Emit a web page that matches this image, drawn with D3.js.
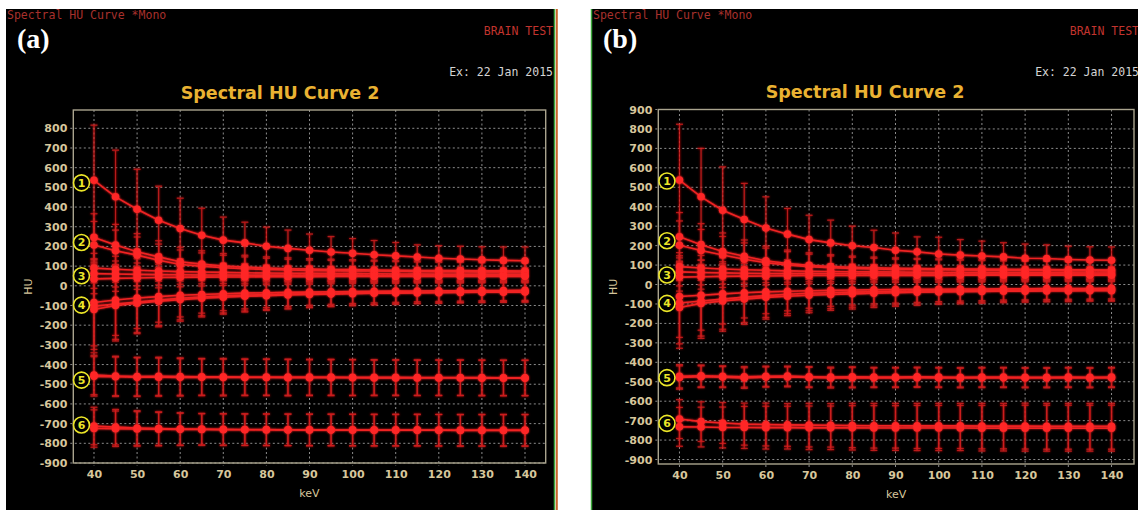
<!DOCTYPE html>
<html>
<head>
<meta charset="utf-8">
<script src="https://cdn.jsdelivr.net/npm/d3@7"></script>
<style>
html, body { margin: 0; padding: 0; background: #fff; }
svg { display: block; }
</style>
</head>
<body>
<div id="container"></div>
<script>
// energies (keV)
var keV = [40,45,50,55,60,65,70,75,80,85,90,95,100,105,110,115,120,125,130,135,140];

// panel (a) : mean HU per ROI line, one SD array per group
var a1Lines = [[536,452,389,333,291,257,232,218,201,190,181,172,165,158,152,146,140,136,132,129,127]];
var a1Sd = [280,237,203,173,154,137,117,105,97,93,82,78,75,72,68,62,64,65,66,68,70];
var a2Lines = [[246,207,173,147,122,110,101,95,90,87,85,83,82,80,79,78,77,77,76,76,75],
               [207,178,156,130,108,99,92,87,83,80,78,77,76,75,74,73,72,72,71,71,70]];
var a2Sd = [120,105,92,82,74,68,63,60,57,55,53,52,51,50,49,48,47,47,46,46,46];
var a3Lines = [[90,84,79,75,72,70,68,66,65,64,63,62,62,61,60,60,59,59,58,58,58],
               [62,60,58,57,56,55,55,54,54,54,53,53,53,52,52,52,52,52,51,51,51],
               [35,38,40,42,43,44,45,45,46,46,46,47,47,47,47,48,48,48,48,48,48]];
var a3Sd = [75,66,58,52,48,45,43,41,40,39,38,37,36,35,35,34,34,34,33,33,33];
var a4Lines = [[-85,-72,-62,-55,-48,-44,-40,-37,-35,-33,-32,-30,-29,-28,-27,-26,-25,-25,-24,-24,-23],
               [-103,-92,-82,-72,-63,-57,-52,-48,-45,-42,-40,-38,-36,-35,-34,-33,-32,-31,-30,-30,-29],
               [-120,-100,-88,-78,-70,-63,-58,-53,-50,-47,-44,-42,-40,-38,-37,-36,-35,-34,-33,-33,-32]];
var a4Sd = [220,180,155,130,110,95,86,80,75,71,67,64,61,59,57,55,54,53,52,51,51];
var a5Lines = [[-453,-458,-461,-460,-461,-462,-462,-463,-463,-464,-464,-464,-465,-465,-465,-466,-466,-466,-466,-467,-467],
               [-460,-462,-464,-464,-465,-465,-466,-466,-466,-467,-467,-467,-467,-468,-468,-468,-468,-468,-469,-469,-469]];
var a5Sd = [100,100,98,97,95,93,93,92,92,92,91,91,91,90,90,90,90,90,90,90,90];
var a6Lines = [[-712,-718,-722,-725,-727,-728,-729,-730,-730,-731,-731,-731,-732,-732,-732,-732,-733,-733,-733,-733,-733],
               [-725,-726,-727,-728,-729,-730,-731,-731,-732,-732,-733,-733,-733,-734,-734,-734,-734,-735,-735,-735,-735]];
var a6Sd = [95,90,88,85,82,80,80,80,80,80,80,80,80,80,80,80,80,80,80,80,80];

// panel (b)
var b1Lines = [[537,451,382,334,291,259,231,214,199,190,176,168,157,151,147,142,135,134,129,126,125]];
var b1Sd = [287,249,223,186,160,132,125,117,101,89,89,77,86,80,76,73,73,70,68,68,68];
var b2Lines = [[245,205,170,145,122,108,99,93,89,86,84,82,81,80,79,78,77,77,76,76,75],
               [202,175,152,130,112,100,92,87,83,80,78,77,76,75,74,73,72,72,71,71,70]];
var b2Sd = [125,108,95,84,75,69,64,60,57,55,53,52,51,50,49,48,47,47,46,46,46];
var b3Lines = [[92,85,80,76,73,70,68,67,66,65,64,63,62,62,61,61,60,60,60,59,59],
               [65,62,60,58,57,56,56,55,55,55,54,54,54,53,53,53,53,53,52,52,52],
               [38,40,42,43,44,45,46,46,46,47,47,47,47,48,48,48,48,48,48,48,48]];
var b3Sd = [72,64,57,51,47,44,42,40,39,38,37,36,36,35,35,34,34,34,33,33,33];
var b4Lines = [[-62,-55,-48,-42,-38,-35,-32,-30,-28,-27,-26,-25,-24,-23,-23,-22,-22,-21,-21,-21,-20],
               [-95,-85,-75,-65,-57,-50,-45,-42,-39,-37,-35,-33,-32,-31,-30,-29,-28,-28,-27,-27,-27],
               [-118,-97,-85,-75,-66,-60,-55,-51,-48,-45,-42,-40,-38,-37,-36,-35,-34,-33,-33,-32,-32]];
var b4Sd = [210,180,155,130,112,100,90,82,78,73,70,67,64,62,60,58,57,56,55,54,54];
var b5Lines = [[-478,-474,-476,-481,-476,-475,-478,-481,-479,-480,-480,-479,-480,-481,-480,-480,-481,-481,-480,-481,-480],
               [-472,-470,-472,-475,-472,-471,-474,-476,-475,-476,-476,-475,-476,-477,-476,-476,-477,-477,-476,-477,-476]];
var b5Sd = [60,56,54,53,52,51,52,51,52,50,50,50,50,50,50,50,50,50,50,50,50];
var b6Lines = [[-692,-705,-712,-718,-720,-722,-723,-724,-725,-726,-726,-727,-727,-727,-728,-728,-728,-729,-729,-729,-729],
               [-732,-733,-735,-735,-736,-736,-737,-737,-737,-738,-738,-738,-738,-738,-739,-739,-739,-739,-739,-739,-739]];
var b6Sd = [100,102,105,108,110,110,112,112,114,115,115,116,116,116,117,117,118,118,118,118,118];

// circled group labels (HU where each number sits)
var labelNames = ["1","2","3","4","5","6"];
var aLabelHU = [523, 220, 51, -98, -479, -707];
var bLabelHU = [532, 225, 49, -97, -479, -714];

// tick labels
var xTicks = [40,50,60,70,80,90,100,110,120,130,140];
var aYTicks = d3.range(-900, 801, 100);
var bYTicks = d3.range(-900, 901, 100);

var svg = d3.select("#container").append("svg")
    .attr("width", 1138)
    .attr("height", 510);

var defs = svg.append("defs");
var glow = defs.append("filter").attr("id", "glow")
    .attr("x", "-20%").attr("y", "-20%").attr("width", "140%").attr("height", "140%");
glow.append("feGaussianBlur").attr("stdDeviation", 1.3).attr("result", "b");
var merge = glow.append("feMerge");
merge.append("feMergeNode").attr("in", "b");
merge.append("feMergeNode").attr("in", "SourceGraphic");

function drawPanel(p) {
  var g = svg.append("g");

  g.append("rect")
      .attr("x", p.bgLeft).attr("y", 9)
      .attr("width", p.bgRight - p.bgLeft).attr("height", 501)
      .attr("fill", "#000");

  var x = d3.scaleLinear().domain(p.xDomain).range([p.plotLeft, p.plotRight]);
  var y = d3.scaleLinear().domain(p.yDomain).range([p.plotBottom, p.plotTop]);

  // grid
  g.append("g").selectAll("line").data(p.yTicks).enter().append("line")
      .attr("x1", p.plotLeft - 3).attr("x2", p.plotRight)
      .attr("y1", function(d) { return y(d); })
      .attr("y2", function(d) { return y(d); })
      .attr("stroke", "#8c8c8c").attr("stroke-width", 1)
      .attr("stroke-dasharray", "2,2.5");
  g.append("g").selectAll("line").data(xTicks).enter().append("line")
      .attr("x1", function(d) { return x(d); })
      .attr("x2", function(d) { return x(d); })
      .attr("y1", p.plotTop).attr("y2", p.plotBottom + 3)
      .attr("stroke", "#8c8c8c").attr("stroke-width", 1)
      .attr("stroke-dasharray", "2,2.5");

  // frame
  g.append("rect")
      .attr("x", p.plotLeft).attr("y", p.plotTop)
      .attr("width", p.plotRight - p.plotLeft).attr("height", p.plotBottom - p.plotTop)
      .attr("fill", "none").attr("stroke", "#aaa48e").attr("stroke-width", 1.4);

  // axes
  var yAxis = g.append("g")
      .attr("transform", "translate(" + p.plotLeft + ",0)")
      .call(d3.axisLeft(y).tickValues(p.yTicks).tickSize(0).tickPadding(6)
        .tickFormat(function(d) { return String(d); }));
  var xAxis = g.append("g")
      .attr("transform", "translate(0," + p.plotBottom + ")")
      .call(d3.axisBottom(x).tickValues(xTicks).tickSize(0).tickPadding(7)
        .tickFormat(function(d) { return String(d); }));
  [yAxis, xAxis].forEach(function(a) {
    a.select(".domain").remove();
    a.selectAll("text")
        .attr("fill", "#d6c69c")
        .style("font-family", "DejaVu Sans")
        .style("font-size", "11px")
        .style("font-weight", "bold");
  });

  g.append("text")
      .attr("x", (p.plotLeft + p.plotRight) / 2).attr("y", p.plotBottom + 34)
      .attr("text-anchor", "middle")
      .attr("fill", "#d6c69c")
      .style("font-family", "DejaVu Sans").style("font-size", "11px")
      .text("keV");
  g.append("text")
      .attr("transform", "translate(" + p.huX + "," + ((p.plotTop + p.plotBottom) / 2) + ") rotate(-90)")
      .attr("text-anchor", "middle").attr("dy", "0.35em")
      .attr("fill", "#d6c69c")
      .style("font-family", "DejaVu Sans").style("font-size", "11px")
      .text("HU");

  // header texts
  g.append("text").attr("x", p.bgLeft + 1).attr("y", 19)
      .attr("fill", "#a8302c")
      .style("font-family", "DejaVu Sans Mono").style("font-size", "11.5px")
      .text("Spectral HU Curve *Mono");
  g.append("text").attr("x", p.bgLeft + 11).attr("y", 48)
      .attr("fill", "#fff")
      .style("font-family", "Liberation Serif").style("font-size", "28px").style("font-weight", "bold")
      .text(p.tag);
  g.append("text").attr("x", p.textRight).attr("y", 35)
      .attr("text-anchor", "end")
      .attr("fill", "#c2342e")
      .style("font-family", "DejaVu Sans Mono").style("font-size", "11.5px")
      .text("BRAIN TEST");
  g.append("text").attr("x", p.textRight).attr("y", 76)
      .attr("text-anchor", "end")
      .attr("fill", "#d4d4d4")
      .style("font-family", "DejaVu Sans Mono").style("font-size", "11.5px")
      .text("Ex: 22 Jan 2015");
  g.append("text").attr("x", (p.bgLeft + p.bgRight) / 2).attr("y", p.titleY)
      .attr("text-anchor", "middle")
      .attr("fill", "#eab232")
      .style("font-family", "DejaVu Sans").style("font-size", "17.5px").style("font-weight", "bold")
      .text("Spectral HU Curve 2");

  // data
  var clipId = "clip" + p.tag.replace(/\W/g, "");
  defs.append("clipPath").attr("id", clipId).append("rect")
      .attr("x", p.plotLeft).attr("y", p.plotTop)
      .attr("width", p.plotRight - p.plotLeft).attr("height", p.plotBottom - p.plotTop);

  var dg = g.append("g").attr("clip-path", "url(#" + clipId + ")")
      .attr("filter", "url(#glow)");
  var line = d3.line()
      .x(function(d, i) { return x(keV[i]); })
      .y(function(d) { return y(d); });

  p.groups.forEach(function(grp) {
    var sd = grp[1];
    grp[0].forEach(function(vals) {
      var pts = vals.map(function(v, i) { return { k: keV[i], v: v, s: sd[i] }; });
      var eb = dg.append("g").attr("stroke", "#d21d1d").attr("stroke-width", 1.3).attr("opacity", 0.8);
      eb.selectAll(".bar").data(pts).enter().append("line")
          .attr("x1", function(d) { return x(d.k); }).attr("x2", function(d) { return x(d.k); })
          .attr("y1", function(d) { return y(d.v - d.s); }).attr("y2", function(d) { return y(d.v + d.s); });
      eb.selectAll(".capTop").data(pts).enter().append("line")
          .attr("x1", function(d) { return x(d.k) - 3.5; }).attr("x2", function(d) { return x(d.k) + 3.5; })
          .attr("y1", function(d) { return y(d.v + d.s); }).attr("y2", function(d) { return y(d.v + d.s); });
      eb.selectAll(".capBot").data(pts).enter().append("line")
          .attr("x1", function(d) { return x(d.k) - 3.5; }).attr("x2", function(d) { return x(d.k) + 3.5; })
          .attr("y1", function(d) { return y(d.v - d.s); }).attr("y2", function(d) { return y(d.v - d.s); });
    });
  });
  p.groups.forEach(function(grp) {
    grp[0].forEach(function(vals) {
      dg.append("path").datum(vals)
          .attr("d", line)
          .attr("fill", "none").attr("stroke", "#f02222").attr("stroke-width", 1.6);
      dg.selectAll(null).data(vals).enter().append("circle")
          .attr("cx", function(d, i) { return x(keV[i]); })
          .attr("cy", function(d) { return y(d); })
          .attr("r", 3.8)
          .attr("fill", "#ff2626");
    });
  });

  // circled numbers
  var lab = g.append("g").selectAll("g").data(p.labelHU).enter().append("g")
      .attr("transform", function(d) { return "translate(" + (x(40) - 12.5) + "," + y(d) + ")"; });
  lab.append("circle").attr("r", 8).attr("fill", "#000")
      .attr("stroke", "#ece628").attr("stroke-width", 1.6);
  lab.append("text")
      .attr("text-anchor", "middle").attr("dy", "0.36em")
      .attr("fill", "#ece628")
      .style("font-family", "DejaVu Sans").style("font-size", "11px").style("font-weight", "bold")
      .text(function(d, i) { return labelNames[i]; });
}

drawPanel({
  tag: "(a)",
  bgLeft: 6, bgRight: 554, textRight: 553, titleY: 99, huX: 28,
  plotLeft: 73.3, plotRight: 545.7, plotTop: 110, plotBottom: 463,
  xDomain: [35.2, 144.8], yDomain: [-900, 893],
  yTicks: aYTicks, labelHU: aLabelHU,
  groups: [[a1Lines, a1Sd], [a2Lines, a2Sd], [a3Lines, a3Sd], [a4Lines, a4Sd], [a5Lines, a5Sd], [a6Lines, a6Sd]]
});

drawPanel({
  tag: "(b)",
  bgLeft: 592, bgRight: 1138, textRight: 1139, titleY: 98, huX: 613,
  plotLeft: 658.3, plotRight: 1134, plotTop: 109.5, plotBottom: 464,
  xDomain: [35.1, 145.2], yDomain: [-923, 900],
  yTicks: bYTicks, labelHU: bLabelHU,
  groups: [[b1Lines, b1Sd], [b2Lines, b2Sd], [b3Lines, b3Sd], [b4Lines, b4Sd], [b5Lines, b5Sd], [b6Lines, b6Sd]]
});

// screen-edge colour strips
svg.append("line").attr("x1", 554.5).attr("x2", 554.5).attr("y1", 9).attr("y2", 510)
    .attr("stroke", "#3aa83a").attr("stroke-width", 1.5);
svg.append("line").attr("x1", 556.8).attr("x2", 556.8).attr("y1", 9).attr("y2", 510)
    .attr("stroke", "#c8642a").attr("stroke-width", 2);
svg.append("line").attr("x1", 591.5).attr("x2", 591.5).attr("y1", 9).attr("y2", 510)
    .attr("stroke", "#3aa83a").attr("stroke-width", 1.5);
</script>
</body>
</html>
